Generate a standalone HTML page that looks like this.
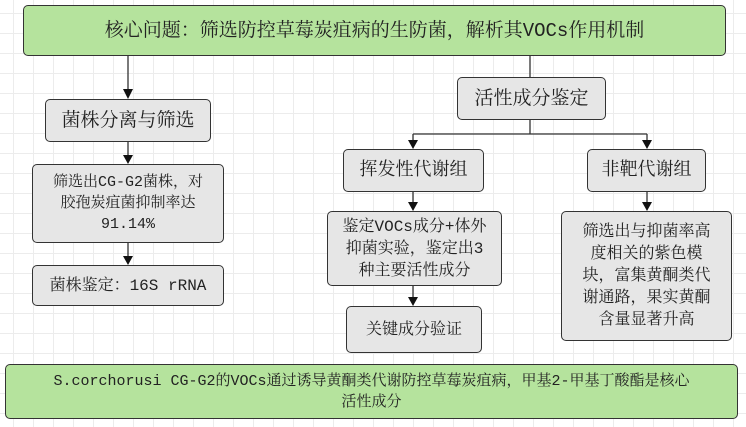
<!DOCTYPE html><html><head><meta charset="utf-8"><style>
body{margin:0;width:746px;height:427px;overflow:hidden;background:#fff;
background-image:linear-gradient(#ececec 1px,transparent 1px),linear-gradient(90deg,#ececec 1px,transparent 1px);background-size:20px 20px;background-position:-7px -7px;
font-family:"Liberation Mono","Noto Serif CJK SC","Noto Sans CJK SC",serif;color:#222;position:relative}
.b{position:absolute;box-sizing:border-box;border:1.5px solid #333;border-radius:5px;background:#e6e6e6;display:flex;align-items:center;justify-content:center;text-align:center;font-size:15px;line-height:22px}
.g{background:#b5e39d}
svg{position:absolute;left:0;top:0}
</style></head><body>
<svg width="746" height="427">
<g stroke="#333" stroke-width="1.3" fill="none">
<line x1="128" y1="56" x2="128" y2="90"/><line x1="128" y1="142" x2="128" y2="156"/><line x1="128" y1="243" x2="128" y2="257"/>
<line x1="530" y1="56" x2="530" y2="77"/><line x1="530" y1="120" x2="530" y2="134"/><line x1="413" y1="134" x2="647" y2="134"/>
<line x1="413" y1="134" x2="413" y2="141"/><line x1="647" y1="134" x2="647" y2="141"/>
<line x1="413" y1="192" x2="413" y2="203"/><line x1="647" y1="192" x2="647" y2="203"/><line x1="413" y1="286" x2="413" y2="298"/>
</g>
<g fill="#111">
<path d="M123,89 L133,89 L128,99Z"/><path d="M123,155 L133,155 L128,164Z"/><path d="M123,256 L133,256 L128,265Z"/>
<path d="M408,140 L418,140 L413,149Z"/><path d="M642,140 L652,140 L647,149Z"/>
<path d="M408,202 L418,202 L413,211Z"/><path d="M642,202 L652,202 L647,211Z"/><path d="M408,297 L418,297 L413,306Z"/>
</g></svg>
<div class="b g" style="left:23px;top:5px;width:703px;height:51px;font-size:19px">核心问题：筛选防控草莓炭疽病的生防菌，解析其VOCs作用机制</div>
<div class="b" style="left:45px;top:99px;width:166px;height:43px;font-size:19px">菌株分离与筛选</div>
<div class="b" style="left:32px;top:164px;width:192px;height:79px;line-height:21px">筛选出CG-G2菌株，对<br>胶孢炭疽菌抑制率达<br>91.14%</div>
<div class="b" style="left:32px;top:265px;width:192px;height:41px;font-size:16px">菌株鉴定：16S rRNA</div>
<div class="b" style="left:457px;top:77px;width:149px;height:43px;font-size:19px">活性成分鉴定</div>
<div class="b" style="left:343px;top:149px;width:141px;height:43px;font-size:18px">挥发性代谢组</div>
<div class="b" style="left:587px;top:149px;width:119px;height:43px;font-size:18px">非靶代谢组</div>
<div class="b" style="left:327px;top:211px;width:175px;height:75px;font-size:16px">鉴定VOCs成分+体外<br>抑菌实验，鉴定出3<br>种主要活性成分</div>
<div class="b" style="left:346px;top:306px;width:136px;height:47px;font-size:16px">关键成分验证</div>
<div class="b" style="left:561px;top:211px;width:171px;height:130px;font-size:16px">筛选出与抑菌率高<br>度相关的紫色模<br>块，富集黄酮类代<br>谢通路，果实黄酮<br>含量显著升高</div>
<div class="b g" style="left:5px;top:364px;width:733px;height:55px;line-height:21px">S.corchorusi CG-G2的VOCs通过诱导黄酮类代谢防控草莓炭疽病，甲基2-甲基丁酸酯是核心<br>活性成分</div>
</body></html>
